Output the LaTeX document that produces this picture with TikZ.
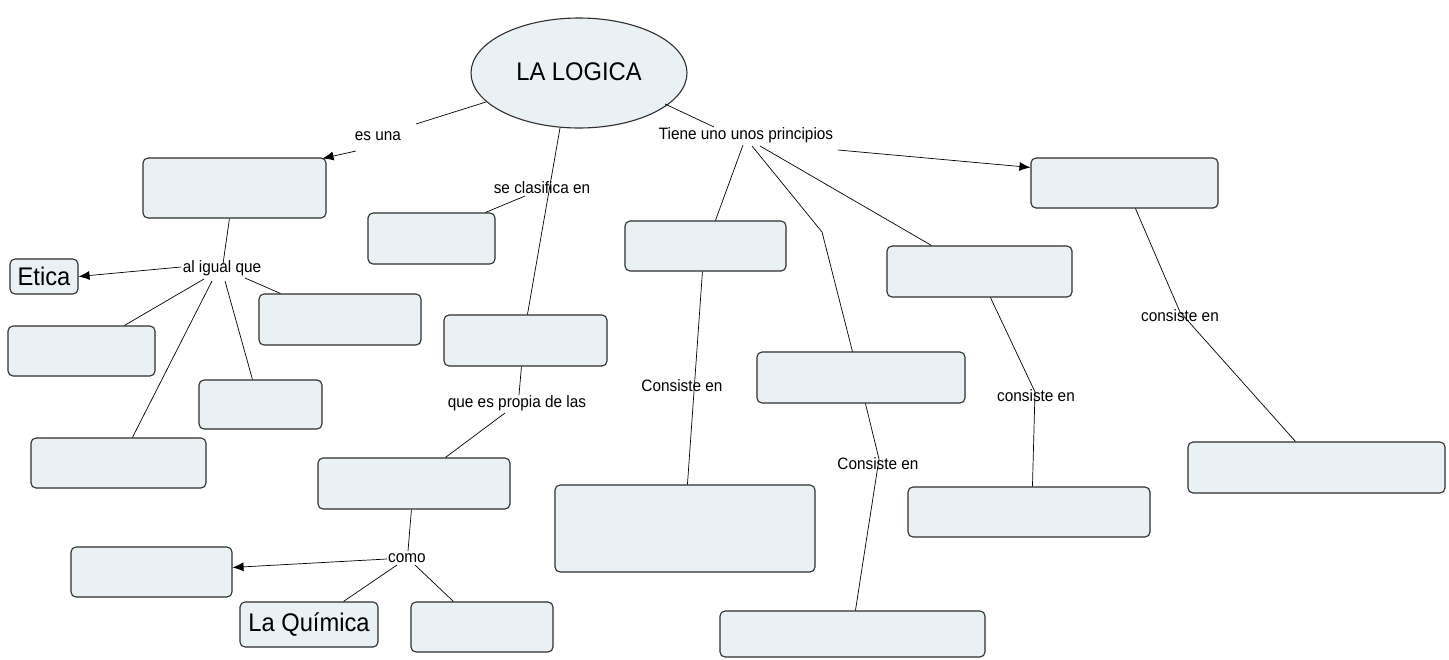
\documentclass[tikz,border=0pt]{standalone}
\usepackage{fontspec}
\setmainfont{Liberation Sans}[FakeStretch=0.93]
\usetikzlibrary{arrows.meta,shapes.geometric}
\definecolor{boxfill}{HTML}{EAF1F4}
\definecolor{boxline}{HTML}{2E2E2E}
\tikzset{
  cbox/.style={draw=boxline, fill=boxfill, rounded corners=5pt, line width=1.1pt, inner sep=0pt},
  lbl/.style={inner sep=1pt, font=\fontsize{16.5}{18}\selectfont},
  big/.style={font=\fontsize{25.5}{28}\selectfont},
  conn/.style={draw=black, line width=0.7pt},
  arr/.style={conn, -{Latex[length=11pt,width=9pt]}}
}
\newcommand\boxnode[5]{\node[cbox, minimum width={(#4-#2)*1pt}, minimum height={(#5-#3)*1pt}] (#1) at ({(#2+#4)/2},{(#3+#5)/2}) {};}
\begin{document}
\begin{tikzpicture}[x=1pt,y=-1pt]
\useasboundingbox[fill=white] (0,0) rectangle (1449,659);
% main ellipse
\node[ellipse, draw=boxline, fill=boxfill, line width=1.1pt, minimum width=216pt, minimum height=110pt, inner sep=0pt] (L) at (579,73) {};
\node[big] (Lt) at (579,72) {LA LOGICA};
% boxes
\boxnode{A}{143}{158}{326}{218}
\boxnode{B1}{368}{213}{495}{264}
\boxnode{B2}{444}{315}{607}{366}
\boxnode{C1}{1031}{158}{1218}{208}
\boxnode{D1}{625}{221}{786}{271}
\boxnode{D2}{887}{246}{1072}{297}
\boxnode{D3}{757}{352}{965}{403}
\boxnode{E1}{555}{485}{815}{572}
\boxnode{E2}{720}{611}{985}{657}
\boxnode{E3}{908}{487}{1150}{537}
\boxnode{E4}{1188}{442}{1445}{493}
\boxnode{F1}{8}{326}{155}{376}
\boxnode{F2}{199}{380}{322}{429}
\boxnode{F3}{31}{438}{206}{488}
\boxnode{G}{259}{294}{421}{345}
\boxnode{H}{318}{458}{510}{509}
\boxnode{I}{71}{547}{232}{597}
\boxnode{J}{411}{602}{553}{652}
\node[cbox, big, minimum width=68pt, minimum height=35pt] (Et) at (44,276.5) {Etica};
\node[cbox, big, minimum width=138pt, minimum height=45pt] (Q) at (309,624.5) {La Química};
% labels
\node[lbl] (esuna) at (378,136) {es una};
\node[lbl] (clas) at (542,188) {se clasifica en};
\node[lbl] (tiene) at (746,135) {Tiene uno unos principios};
\node[lbl] (alig) at (222,268) {al igual que};
\node[lbl] (prop) at (517,403) {que es propia de las};
\node[lbl] (como) at (407,558) {como};
\node[lbl] (cons1) at (682,386) {Consiste en};
\node[lbl] (cons2) at (878,464) {Consiste en};
\node[lbl] (cons3) at (1036,396) {consiste en};
\node[lbl] (cons4) at (1180,316) {consiste en};
% connectors
\draw[conn] ([shift={(-93,29)}]L.center) -- ([shift={(38,-12)}]esuna.center);
\draw[arr] ([shift={(-22,15)}]esuna.center) -- ([shift={(-4,1)}]A.north east);
\draw[conn] ([shift={(-19,55)}]L.center) -- ([shift={(84,0)}]B2.north west);
\draw[conn] ([shift={(-17,8)}]clas.center) -- ([shift={(118,0)}]B1.north west);
\draw[conn] ([shift={(86,31)}]L.center) -- ([shift={(-32,-8)}]tiene.center);
\draw[arr] ([shift={(92,15)}]tiene.center) -- ([shift={(0,10)}]C1.north west);
\draw[conn] ([shift={(-3,10)}]tiene.center) -- ([shift={(91,0)}]D1.north west);
\draw[conn] ([shift={(6,11)}]tiene.center) -- (822,232) -- ([shift={(96,0)}]D3.north west);
\draw[conn] ([shift={(14,11)}]tiene.center) -- ([shift={(45,0)}]D2.north west);
\draw[conn] ([shift={(78,0)}]D1.south west) -- ([shift={(133,0)}]E1.north west);
\draw[conn] ([shift={(109,0)}]D3.south west) -- ([shift={(1,-5)}]cons2.center) -- ([shift={(136,0)}]E2.north west);
\draw[conn] ([shift={(104,0)}]D2.south west) -- ([shift={(-1,-4)}]cons3.center) -- ([shift={(125,0)}]E3.north west);
\draw[conn] ([shift={(105,0)}]C1.south west) -- ([shift={(0,-4)}]cons4.center) -- ([shift={(108,0)}]E4.north west);
\draw[conn] ([shift={(87,0)}]A.south west) -- ([shift={(1,-4)}]alig.center);
\draw[arr] ([shift={(-41,-1)}]alig.center) -- (Et.east);
\draw[conn] ([shift={(-18,11)}]alig.center) -- ([shift={(117,0)}]F1.north west);
\draw[conn] ([shift={(-10,13)}]alig.center) -- ([shift={(102,0)}]F3.north west);
\draw[conn] ([shift={(3,13)}]alig.center) -- ([shift={(54,0)}]F2.north west);
\draw[conn] ([shift={(23,10)}]alig.center) -- ([shift={(22,0)}]G.north west);
\draw[conn] ([shift={(78,0)}]B2.south west) -- ([shift={(2,-8)}]prop.center);
\draw[conn] ([shift={(-12,10)}]prop.center) -- ([shift={(128,0)}]H.north west);
\draw[conn] ([shift={(94,0)}]H.south west) -- ([shift={(1,-7)}]como.center);
\draw[arr] ([shift={(-20,1)}]como.center) -- ([shift={(0,21)}]I.north east);
\draw[conn] ([shift={(-10,7)}]como.center) -- ([shift={(104,0)}]Q.north west);
\draw[conn] ([shift={(8,7)}]como.center) -- ([shift={(43,0)}]J.north west);
\end{tikzpicture}
\end{document}
